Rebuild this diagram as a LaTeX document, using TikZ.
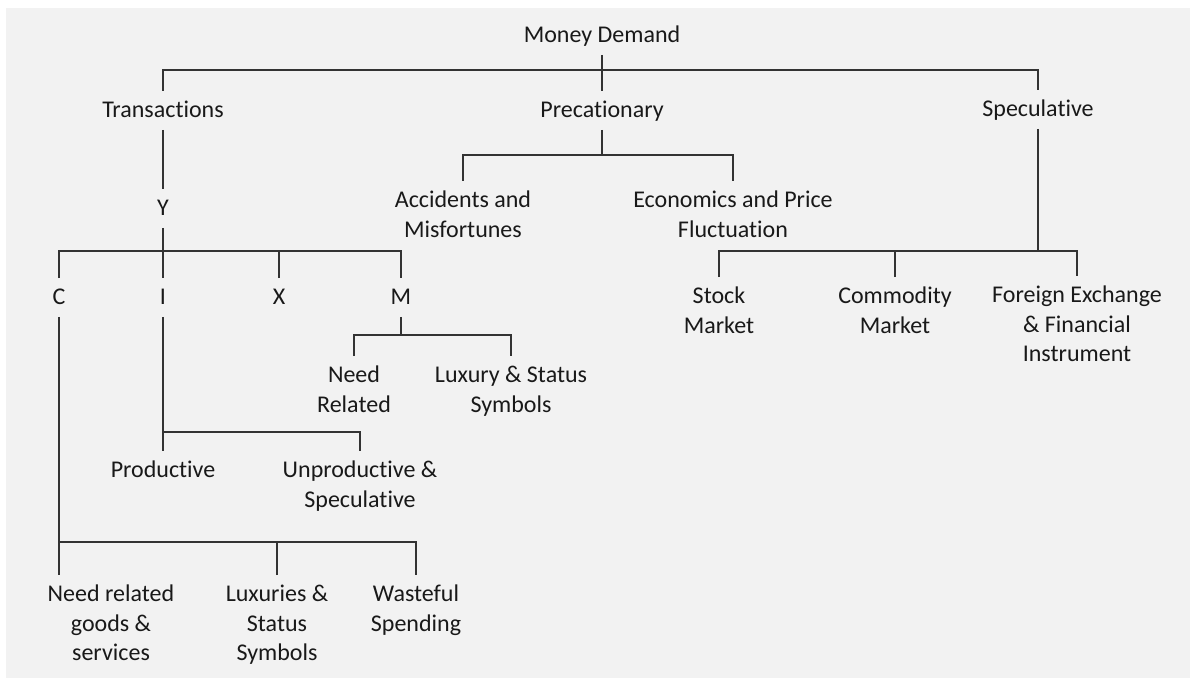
\documentclass[tikz,border=0pt]{standalone}
\usepackage{fontspec}
\setmainfont{Carlito}[Ligatures=NoCommon]
% vertical room above the first line and below the last one
\newcommand\tstrut{\rule{0pt}{26.5pt}}
\newcommand\bstrut{\rule[-12pt]{0pt}{0pt}}
\begin{document}
\begin{tikzpicture}[x=1pt,y=-1pt,
  lbl/.style={inner sep=0pt, anchor=north, align=center, text=black!90,
    font=\fontsize{24}{29.3}\selectfont},
  link/.style={line width=1.1pt, draw=black!80}]
  % page and grey panel
  \useasboundingbox (0,0) rectangle (1190,679);
  \fill[black!5] (6,8) rectangle (1190,678);

  % levels of the hierarchy (first line centre minus 19)
  \node[lbl] (md)     at (602,16)  {\tstrut Money Demand\bstrut};
  \node[lbl] (tr)     at (163,91)  {\tstrut Transactions\bstrut};
  \node[lbl] (pre)    at (602,91)  {\tstrut Precationary\bstrut};
  \node[lbl] (spec)   at (1038,90) {\tstrut Speculative\bstrut};
  \node[lbl] (y)      at (163,189) {\tstrut Y\bstrut};
  \node[lbl] (c)      at (59,278)  {\tstrut C\bstrut};
  \node[lbl] (i)      at (163,278) {\tstrut I\bstrut};
  \node[lbl] (x)      at (279,278) {\tstrut X\bstrut};
  \node[lbl] (m)      at (401,278) {\tstrut M\bstrut};
  \node[lbl] (acc)    at (463,181) {\tstrut Accidents and\\Misfortunes\bstrut};
  \node[lbl] (eco)    at (733,181) {\tstrut Economics and Price\\Fluctuation\bstrut};
  \node[lbl] (stock)  at (719,277) {\tstrut Stock\\Market\bstrut};
  \node[lbl] (comm)   at (895,277) {\tstrut Commodity\\Market\bstrut};
  \node[lbl] (fx)     at (1077,276){\tstrut Foreign Exchange\\\& Financial\\Instrument\bstrut};
  \node[lbl] (need)   at (354,356) {\tstrut Need\\Related\bstrut};
  \node[lbl] (lux)    at (511,356) {\tstrut Luxury \& Status\\Symbols\bstrut};
  \node[lbl] (prod)   at (163,451) {\tstrut Productive\bstrut};
  \node[lbl] (unprod) at (360,451) {\tstrut Unproductive \&\\Speculative\bstrut};
  \node[lbl] (ngs)    at (111,575) {\tstrut Need related\\goods \&\\services\bstrut};
  \node[lbl] (lss)    at (277,575) {\tstrut Luxuries \&\\Status\\Symbols\bstrut};
  \node[lbl] (waste)  at (416,575) {\tstrut Wasteful\\Spending\bstrut};

  % heights of the horizontal bars
  \coordinate (topbar)  at (0,70);
  \coordinate (prebar)  at (0,155);
  \coordinate (ybar)    at (0,251);
  \coordinate (specbar) at (0,251);
  \coordinate (mbar)    at (0,335);
  \coordinate (ibar)    at (0,432);
  \coordinate (cbar)    at (0,542);

  % Money Demand
  \draw[link] (md.south) -- (pre.north);
  \draw[link] (tr.north) |- (spec.north |- topbar) -- (spec.north);

  % Transactions
  \draw[link] (tr.south) -- (y.north);
  \draw[link] (y.south) -- (i.north);
  \draw[link] (c.north) |- (m.north |- ybar) -- (m.north);
  \draw[link] (x.north) -- (x.north |- ybar);

  % Precationary
  \draw[link] (pre.south) -- (pre.south |- prebar);
  \draw[link] (acc.north) |- (eco.north |- prebar) -- (eco.north);

  % Speculative
  \draw[link] (spec.south) -- (spec.south |- specbar);
  \draw[link] (stock.north) |- (fx.north |- specbar) -- (fx.north);
  \draw[link] (comm.north) -- (comm.north |- specbar);

  % M
  \draw[link] (m.south) -- (m.south |- mbar);
  \draw[link] (need.north) |- (lux.north |- mbar) -- (lux.north);

  % I
  \draw[link] (i.south) -- (prod.north);
  \draw[link] (i.south |- ibar) -| (unprod.north);

  % C
  \draw[link] (c.south) -- (c.south |- ngs.north);
  \draw[link] (c.south |- cbar) -| (waste.north);
  \draw[link] (lss.north) -- (lss.north |- cbar);
\end{tikzpicture}
\end{document}
